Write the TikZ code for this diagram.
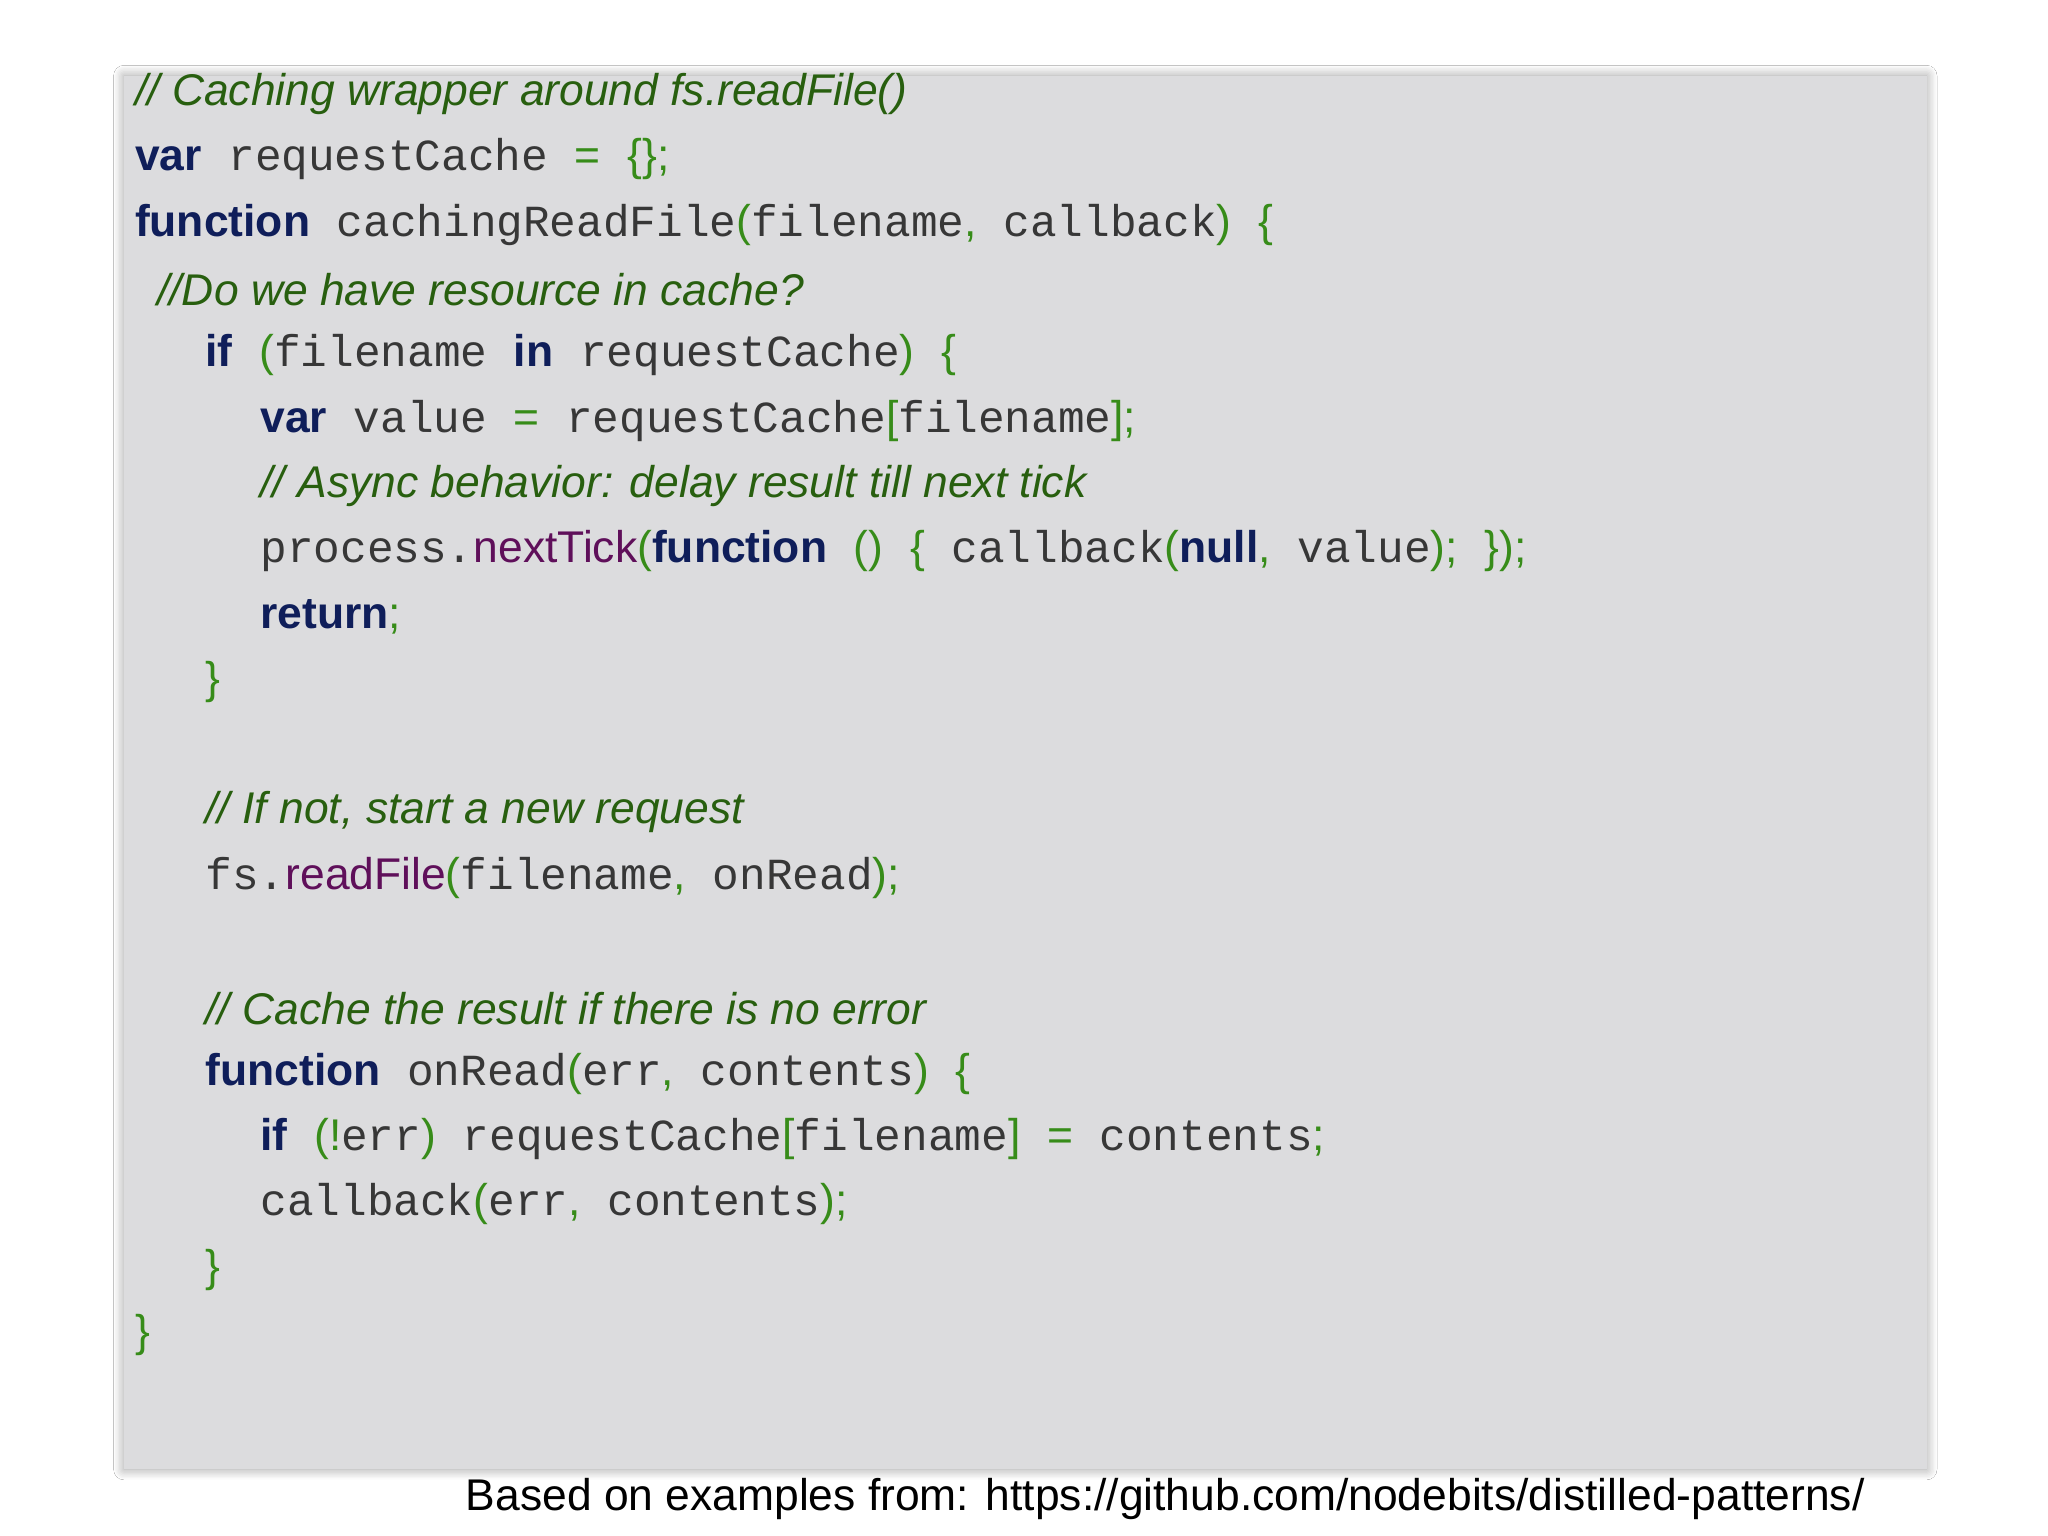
\documentclass[tikz,border=0pt]{standalone}
\usepackage{fontspec}
\setmainfont{Liberation Sans}
\setmonofont{Liberation Mono}
\usetikzlibrary{shadows.blur}
\definecolor{kwc}{RGB}{15,30,90}
\definecolor{pnc}{RGB}{55,140,25}
\definecolor{cmc}{RGB}{40,95,15}
\definecolor{fnc}{RGB}{95,15,90}
\definecolor{idc}{RGB}{55,55,55}
\definecolor{bgc}{RGB}{220,220,222}
\newcommand{\kw}[1]{{\color{kwc}\bfseries #1}}
\newcommand{\pn}[1]{{\color{pnc}#1}}
\newcommand{\id}[1]{{\color{idc}\ttfamily #1}}
\newcommand{\fn}[1]{{\color{fnc}#1}}
\newcommand{\cm}[1]{{\color{cmc}\itshape #1}}
\newcommand{\ts}{{\ttfamily\ }}
\tikzset{code/.style={anchor=west,inner sep=0pt,font=\fontsize{17}{20}\selectfont}}
\begin{document}
\begin{tikzpicture}[x=0.5pt,y=-0.5pt]
\useasboundingbox (0,0) rectangle (1568,1176);
\fill[white] (0,0) rectangle (1568,1176);
\fill[bgc,blur shadow={shadow xshift=0pt,shadow yshift=0pt,shadow blur steps=8,shadow blur radius=4pt}] (95,58) rectangle (1475,1125);
\node[code] (l1) at (103,72) {\cm{// Caching wrapper around fs.readFile()}};
\node[code] (l2) at (103,122) {\kw{var}\ts\id{requestCache}\ts\pn{=}\ts\pn{\{\};}};
\node[code] (l3) at (103,172) {\kw{function}\ts\id{cachingReadFile}\pn{(}\id{filename}\pn{,}\ts\id{callback}\pn{)}\ts\pn{\{}};
\node[code] (l4) at (120,222) {\cm{//Do we have resource in cache?}};
\node[code] (l5) at (157,272) {\kw{if}\ts\pn{(}\id{filename}\ts\kw{in}\ts\id{requestCache}\pn{)}\ts\pn{\{}};
\node[code] (l6) at (199,322) {\kw{var}\ts\id{value}\ts\pn{=}\ts\id{requestCache}\pn{[}\id{filename}\pn{];}};
\node[code] (l7) at (199,372) {\cm{// Async behavior: delay result till next tick}};
\node[code] (l8) at (199,422) {\id{process.}\fn{nextTick}\pn{(}\kw{function}\ts\pn{()}\ts\pn{\{}\ts\id{callback}\pn{(}\kw{null}\pn{,}\ts\id{value}\pn{);}\ts\pn{\});}};
\node[code] (l9) at (199,472) {\kw{return}\pn{;}};
\node[code] (l10) at (157,522) {\pn{\}}};
\node[code] (l11) at (157,622) {\cm{// If not, start a new request}};
\node[code] (l12) at (157,672) {\id{fs.}\fn{readFile}\pn{(}\id{filename}\pn{,}\ts\id{onRead}\pn{);}};
\node[code] (l13) at (157,772) {\cm{// Cache the result if there is no error}};
\node[code] (l14) at (157,822) {\kw{function}\ts\id{onRead}\pn{(}\id{err}\pn{,}\ts\id{contents}\pn{)}\ts\pn{\{}};
\node[code] (l15) at (199,872) {\kw{if}\ts\pn{(!}\id{err}\pn{)}\ts\id{requestCache}\pn{[}\id{filename}\pn{]}\ts\pn{=}\ts\id{contents}\pn{;}};
\node[code] (l16) at (199,922) {\id{callback}\pn{(}\id{err}\pn{,}\ts\id{contents}\pn{);}};
\node[code] (l17) at (157,972) {\pn{\}}};
\node[code] (l18) at (103,1022) {\pn{\}}};
\node[code,anchor=east] (ft) at (1428,1148) {Based on examples from: https://github.com/nodebits/distilled-patterns/};
\end{tikzpicture}
\end{document}
